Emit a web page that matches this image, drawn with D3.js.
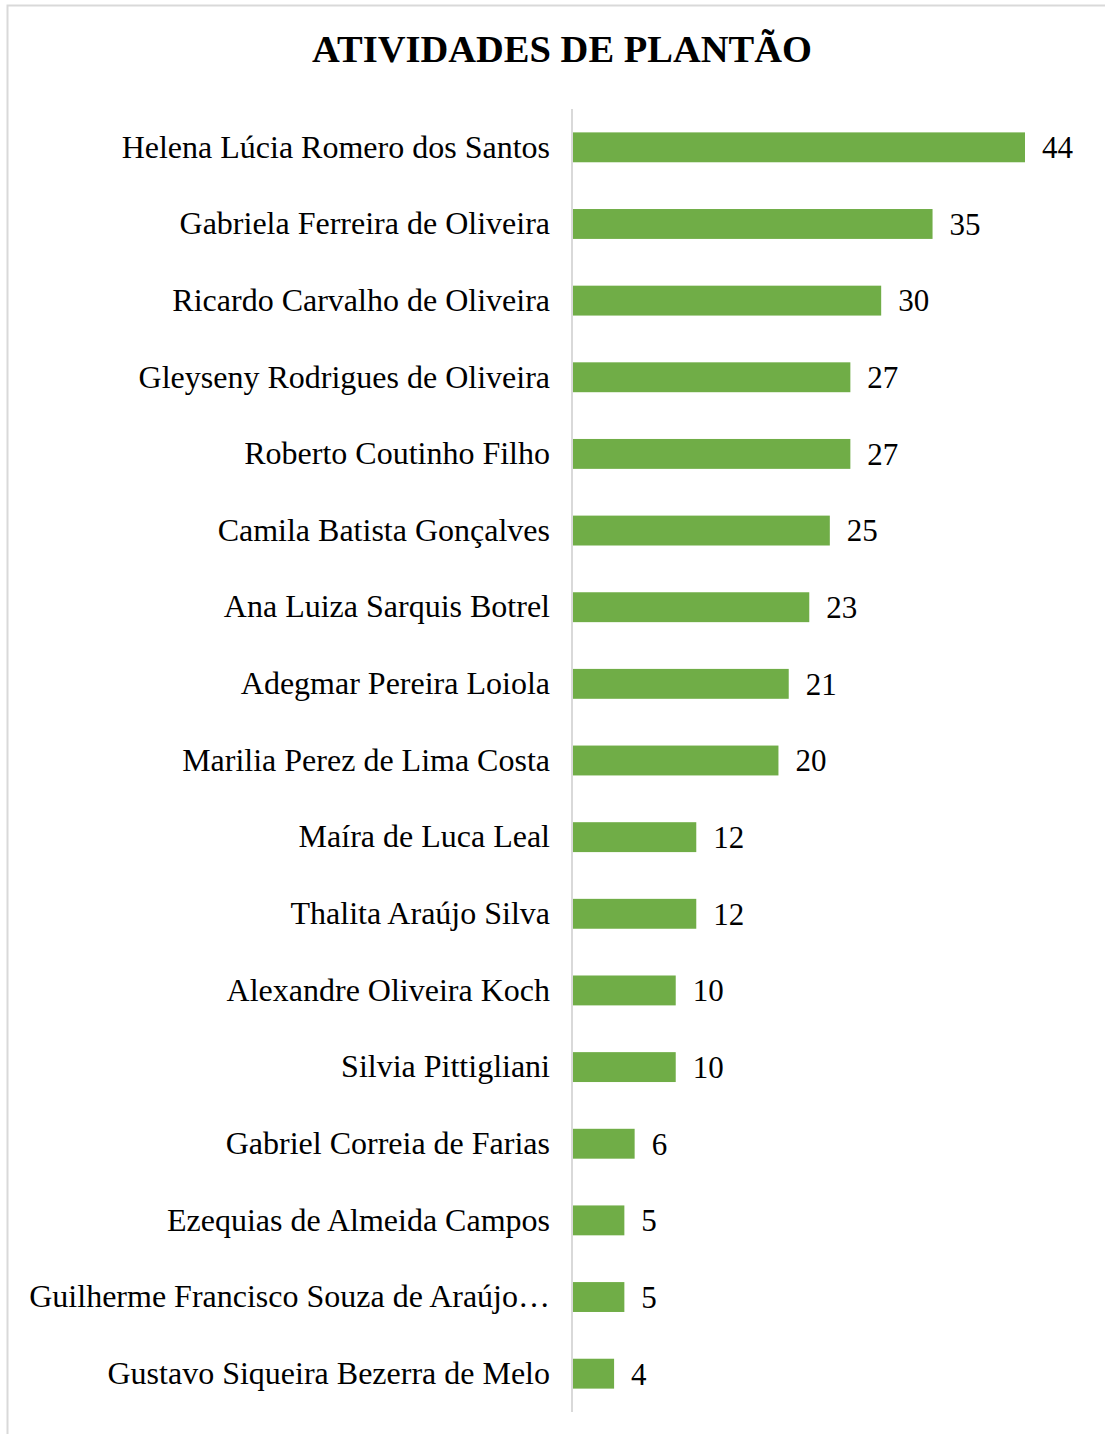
<!DOCTYPE html>
<html>
<head>
<meta charset="utf-8">
<script src="https://cdn.jsdelivr.net/npm/d3@7.9.0/dist/d3.min.js"></script>
<style>
  body { margin: 0; background: #fff; }
  svg { display: block; }
  text { font-family: "Liberation Serif", "Times New Roman", serif; fill: #000; }
</style>
</head>
<body>
<div id="chart"></div>
<script>
const names = [
  'Helena Lúcia Romero dos Santos',
  'Gabriela Ferreira de Oliveira',
  'Ricardo Carvalho de Oliveira',
  'Gleyseny Rodrigues de Oliveira',
  'Roberto Coutinho Filho',
  'Camila Batista Gonçalves',
  'Ana Luiza Sarquis Botrel',
  'Adegmar Pereira Loiola',
  'Marilia Perez de Lima Costa',
  'Maíra de Luca Leal',
  'Thalita Araújo Silva',
  'Alexandre Oliveira Koch',
  'Silvia Pittigliani',
  'Gabriel Correia de Farias',
  'Ezequias de Almeida Campos',
  'Guilherme Francisco Souza de Araújo…',
  'Gustavo Siqueira Bezerra de Melo'
];
const counts = [44, 35, 30, 27, 27, 25, 23, 21, 20, 12, 12, 10, 10, 6, 5, 5, 4];
const title = 'ATIVIDADES DE PLANTÃO';

const width = 1105;
const height = 1434;
const plot = { left: 573, top: 109, bottom: 1412 };

const data = names.map((name, i) => ({ name, value: counts[i] }));

const svg = d3.select('#chart')
  .append('svg')
  .attr('width', width)
  .attr('height', height);

// chart frame
svg.append('rect')
  .attr('x', 7.5)
  .attr('y', 5.5)
  .attr('width', width + 10)
  .attr('height', height + 10)
  .attr('fill', 'none')
  .attr('stroke', '#d9d9d9')
  .attr('stroke-width', 2);

svg.append('text')
  .attr('x', 562)
  .attr('y', 62)
  .attr('text-anchor', 'middle')
  .style('font-size', '38.5px')
  .style('font-weight', 'bold')
  .text(title);

const xScale = d3.scaleLinear()
  .domain([0, 44])
  .range([plot.left, 1025]);

const yScale = d3.scaleBand()
  .domain(names)
  .range([plot.top, plot.bottom])
  .paddingInner(0.61)
  .paddingOuter(0.305);

const yAxis = d3.axisLeft(yScale).tickSize(0).tickPadding(22);

const axisG = svg.append('g')
  .attr('class', 'y-axis')
  .attr('transform', `translate(${plot.left - 1}, 0)`)
  .call(yAxis);

axisG.select('.domain')
  .attr('d', `M0,${plot.top}V${plot.bottom}`)
  .attr('stroke', '#d9d9d9')
  .attr('stroke-width', 2);

axisG.selectAll('.tick text')
  .style('font-size', '32px')
  .style('font-family', '"Liberation Serif", "Times New Roman", serif')
  .attr('fill', '#000');

svg.append('g')
  .attr('class', 'bars')
  .selectAll('rect')
  .data(data)
  .join('rect')
  .attr('x', xScale(0))
  .attr('y', d => yScale(d.name))
  .attr('width', d => xScale(d.value) - xScale(0))
  .attr('height', yScale.bandwidth())
  .attr('fill', '#70ad47');

svg.append('g')
  .attr('class', 'values')
  .selectAll('text')
  .data(data)
  .join('text')
  .attr('x', d => xScale(d.value) + 17)
  .attr('y', d => yScale(d.name) + yScale.bandwidth() / 2)
  .attr('dy', '0.35em')
  .style('font-size', '31px')
  .text(d => d.value);
</script>
</body>
</html>
